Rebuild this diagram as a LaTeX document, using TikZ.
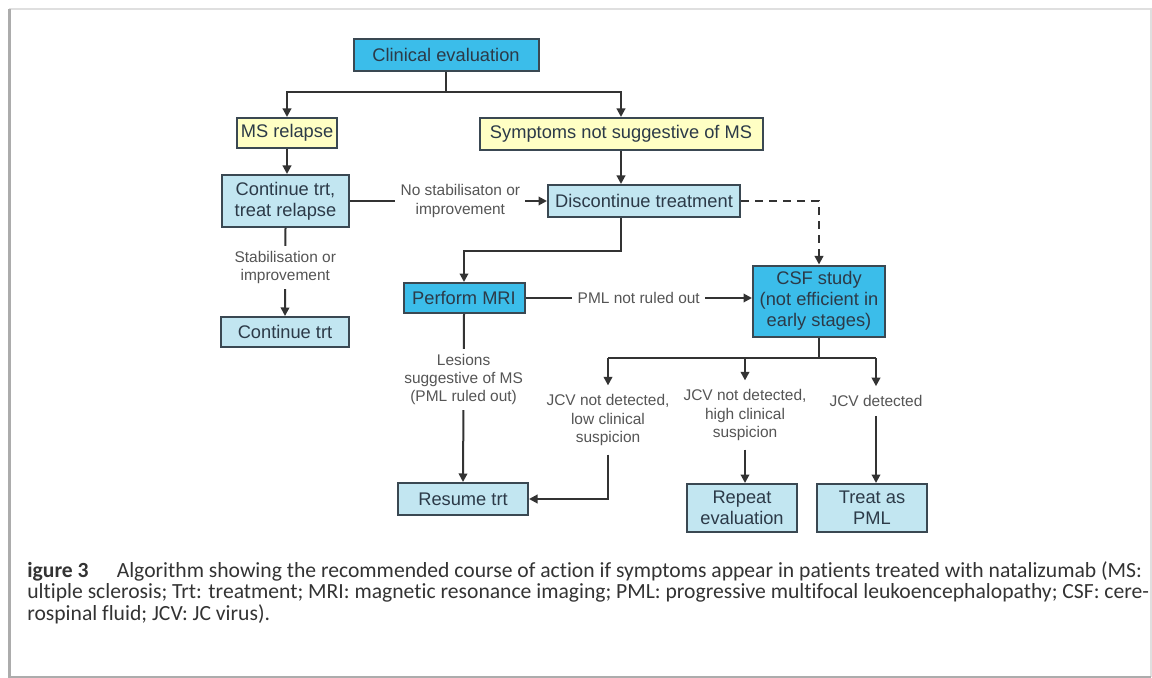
\documentclass[tikz,border=0pt]{standalone}
\usepackage{fontspec}
\setmainfont{Liberation Sans}
\newfontfamily\capfont[Ligatures=NoCommon]{Carlito}
\usetikzlibrary{arrows.meta}
\definecolor{cyanfill}{HTML}{3BBDEA}
\definecolor{paleblue}{HTML}{C2E6F1}
\definecolor{paleyellow}{HTML}{FFFFC4}
\definecolor{boxline}{HTML}{3A4852}
\definecolor{boxtext}{HTML}{2C3A48}
\definecolor{labeltext}{HTML}{555555}
\definecolor{linecol}{HTML}{333333}
\definecolor{captext}{HTML}{333333}

\begin{document}
\begin{tikzpicture}[x=0.2mm,y=-0.2mm,
  box/.style={draw=boxline,line width=0.4mm,text=boxtext,font=\fontsize{10.4}{12}\selectfont,align=center,inner sep=0pt},
  paleb/.style={box,fill=paleblue},
  brightb/.style={box,fill=cyanfill},
  yellowb/.style={box,fill=paleyellow},
  lbl/.style={text=labeltext,font=\fontsize{8.8}{10.4}\selectfont,align=center,fill=white,inner sep=3pt},
  conn/.style={draw=linecol,line width=0.4mm},
  arr/.style={conn,-{Triangle[length=1.7mm,width=1.7mm]}}]

\useasboundingbox (0,0) rectangle (1152,678);

\draw[gray!25, line width=0.5mm] (9,9) -- (1151,9) -- (1151,677);
\draw[gray!65, line width=0.6mm] (9,9) -- (9,677) -- (1151,677);

\node[brightb, minimum width=37mm, minimum height=6.4mm] (eval) at (446,55) {Clinical evaluation};
\node[yellowb, minimum width=20mm, minimum height=6mm] (relapse) at (287,133) {MS relapse};
\node[yellowb, minimum width=56.6mm, minimum height=6.4mm] (symp) at (621,134) {Symptoms not suggestive of MS};
\node[paleb, minimum width=25.4mm, minimum height=10.4mm] (conttreat) at (285.5,201) {Continue trt,\\treat relapse};
\node[paleb, minimum width=38.4mm, minimum height=6.4mm] (discont) at (644,201) {Discontinue treatment};
\node[paleb, minimum width=25.6mm, minimum height=6mm] (cont) at (285,332) {Continue trt};
\node[brightb, minimum width=24.2mm, minimum height=6mm] (mri) at (464,298) {Perform MRI};
\node[brightb, minimum width=26.4mm, minimum height=14.2mm] (csf) at (819,301) {CSF study\\(not efficient in\\early stages)};
\node[paleb, minimum width=26mm, minimum height=6.4mm] (resume) at (463,499) {Resume trt};
\node[paleb, minimum width=22mm, minimum height=9.6mm] (repeat) at (742,508) {Repeat\\evaluation};
\node[paleb, minimum width=22mm, minimum height=9.6mm] (pml) at (872,508) {Treat as\\PML};

\coordinate (split) at (446,92);
\draw[conn] (eval.south) -- (split);
\draw[arr] (split) -| (relapse.north);
\draw[arr] (split) -| (symp.north);
\draw[arr] (relapse.south) -- (relapse.south |- conttreat.north);
\draw[arr] (symp.south) -- (symp.south |- discont.north);

\draw[arr] (conttreat.east) -- (conttreat.east -| discont.west) node[lbl, pos=0.56] (nostab) {No stabilisaton or\\improvement};
\draw[arr] (conttreat.south) -- (cont.north) node[lbl, pos=0.45] (stab) {Stabilisation or\\improvement};
\draw[arr, dash pattern=on 1.6mm off 1.2mm] (discont.east) -| (csf.north);

\draw[arr] (discont.south -| symp.south) -- ++(0,33) -| (mri.north);
\draw[arr] (mri.east) -- (mri.east -| csf.west) node[lbl, midway] (notruled) {PML not ruled out};
\draw[arr] (mri.south) -- (resume.north) node[lbl, pos=0.39] (lesions) {Lesions\\suggestive of MS\\(PML ruled out)};

\coordinate (jcvbar) at (819,358);
\node[lbl, inner sep=5pt] (lowsusp) at (608,420) {JCV not detected,\\low clinical\\suspicion};
\node[lbl, inner sep=5pt] (highsusp) at (745,415) {JCV not detected,\\high clinical\\suspicion};
\node[lbl, inner sep=5pt] (detect) at (876,401) {JCV detected};

\draw[conn] (csf.south) -- (jcvbar);
\draw[conn] (lowsusp.north |- jcvbar) -- (detect.north |- jcvbar);
\draw[arr] (lowsusp.north |- jcvbar) -- (lowsusp.north);
\draw[arr] (highsusp.north |- jcvbar) -- (highsusp.north);
\draw[arr] (detect.north |- jcvbar) -- (detect.north);
\draw[arr] (lowsusp.south) |- (resume.east);
\draw[arr] (highsusp.south) -- (highsusp.south |- repeat.north);
\draw[arr] (detect.south) -- (detect.south |- pml.north);

\node[anchor=north west, align=left, text=captext, inner sep=0pt, font=\capfont\fontsize{12.3}{12.2}\selectfont] (caption) at (27,561)
  {\textbf{igure 3}\hspace{1.3em}Algorithm showing the recommended course of action if symptoms appear in patients treated with natalizumab (MS:\\
  ultiple sclerosis; Trt: treatment; MRI: magnetic resonance imaging; PML: progressive multifocal leukoencephalopathy; CSF: cere-\\
  rospinal fluid; JCV: JC virus).};

\end{tikzpicture}
\end{document}
